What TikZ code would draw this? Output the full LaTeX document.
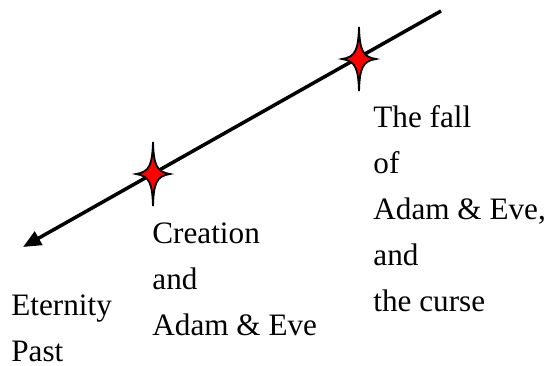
\documentclass[tikz,border=0pt]{standalone}
\usepackage{fontspec}
\setmainfont{Liberation Serif}
\usetikzlibrary{arrows.meta}

\begin{document}
\begin{tikzpicture}[
    x=0.5pt, y=-0.5pt,
    label/.style={anchor=base west, inner sep=0pt, align=left,
                  font=\fontsize{15.6}{23}\selectfont},
    timeline/.style={-{Triangle[length=9pt,width=7.5pt]}, line width=1.75pt},
    sparkle/.pic={
      \filldraw[fill=red, draw=black, line width=0.9pt, line join=miter]
        (0,-32) .. controls (0.8,-10) and (3,-2) .. (17,0)
        .. controls (3,2) and (0.8,10) .. (0,32)
        .. controls (-0.8,10) and (-3,2) .. (-17,0)
        .. controls (-3,-2) and (-0.8,-10) .. (0,-32) -- cycle;
    },
  ]
    \useasboundingbox (0,0) rectangle (552,365);

    % the line of time
    \coordinate (future) at (441,11);
    \coordinate (past) at (23,247);
    \draw[timeline] (future) -- (past);

    % events on the line
    \coordinate (creation) at (153,174);
    \coordinate (fall) at (359,59);
    \pic at (creation) {sparkle};
    \pic at (fall) {sparkle};

    % labels (anchored at the last baseline)
    \node[label] (eternity) at (11,361) {Eternity\\Past};
    \node[label] (creationtxt) at (152,335) {Creation\\and\\Adam \& Eve};
    \node[label] (falltxt) at (373,311)
      {The fall\\of\\Adam \& Eve,\\and\\the curse};
\end{tikzpicture}
\end{document}
